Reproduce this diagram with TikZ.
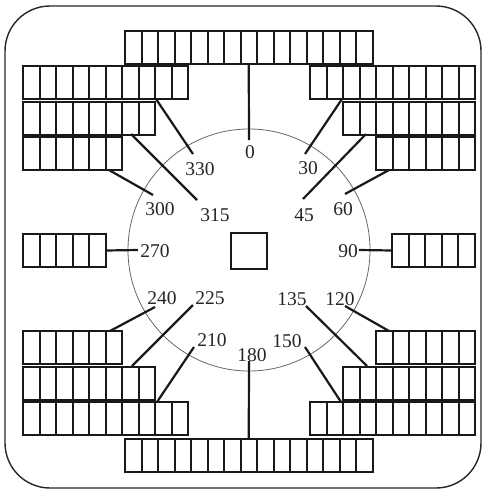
\documentclass[tikz,border=0pt]{standalone}
\usepackage{fontspec}
\setmainfont{Liberation Serif}
\begin{document}
\begin{tikzpicture}[x=1pt,y=-1pt,
  cellrow/.style={draw=black!90, line width=2pt},
  conn/.style={draw=black!90, line width=2.2pt},
  lab/.style={font=\fontsize{19.5}{19.5}\selectfont, inner sep=0pt, text=black!85}]
\useasboundingbox (0,0) rectangle (486,493);
\draw[line width=1.4pt, black!85, rounded corners=45pt] (5,6) rectangle (481,488);

\newcommand\cellrowbar[4]{%
  \node[cellrow, rectangle, anchor=north west, minimum width=#4*16.5pt, minimum height=33pt, inner sep=0pt, outer sep=0pt] (#1) at (#2,#3) {};
  \pgfmathtruncatemacro\cellm{#4-1}%
  \foreach \k in {1,...,\cellm} {\draw[cellrow] (#2+\k*16.5,#3) -- (#2+\k*16.5,#3+33);}
}

% bars
\cellrowbar{top}{125}{31}{15}
\cellrowbar{L1}{23}{66}{10}
\cellrowbar{L2}{23}{102}{8}
\cellrowbar{L3}{23}{137}{6}
\cellrowbar{L270}{23}{234}{5}
\cellrowbar{R1}{310}{66}{10}
\cellrowbar{R2}{343}{102}{8}
\cellrowbar{R3}{376}{137}{6}
\cellrowbar{R90}{392}{234}{5}
\cellrowbar{BL3}{23}{331}{6}
\cellrowbar{BL2}{23}{367}{8}
\cellrowbar{BL1}{23}{402}{10}
\cellrowbar{bot}{125}{439}{15}
\cellrowbar{BR3}{376}{331}{6}
\cellrowbar{BR2}{343}{367}{8}
\cellrowbar{BR1}{310}{402}{10}

% circle and centre square
\node[draw=black!60, line width=0.8pt, circle, minimum size=242pt, inner sep=0pt] (ring) at (249,250) {};
\node[draw=black!90, line width=2pt, minimum size=36pt, inner sep=0pt] (core) at (249,251) {};

% connector start points
\coordinate (s30) at (342,99);
\coordinate (s45) at (366,134);
\coordinate (s60) at (389,170);
\coordinate (s330) at (156,99);
\coordinate (s315) at (131,134);
\coordinate (s300) at (109,170);
\coordinate (s240) at (110,331);
\coordinate (s225) at (132,366);
\coordinate (s210) at (157,402);
\coordinate (s150) at (341,402);
\coordinate (s135) at (367,366);
\coordinate (s120) at (389,331);
% connector end points
\coordinate (e0) at (249,140);
\coordinate (e30) at (305,154);
\coordinate (e45) at (303,199);
\coordinate (e60) at (345,194);
\coordinate (e330) at (193,154);
\coordinate (e315) at (197,200);
\coordinate (e300) at (153,195);
\coordinate (e270) at (138,250);
\coordinate (e90) at (359,250);
\coordinate (e240) at (155,307);
\coordinate (e225) at (193,305);
\coordinate (e210) at (194,347);
\coordinate (e180) at (249,361);
\coordinate (e150) at (305,347);
\coordinate (e135) at (306,306);
\coordinate (e120) at (345,306);

\draw[conn] (top.south) -- (e0);
\draw[conn] (s30) -- (e30);
\draw[conn] (s45) -- (e45);
\draw[conn] (s60) -- (e60);
\draw[conn] (s330) -- (e330);
\draw[conn] (s315) -- (e315);
\draw[conn] (s300) -- (e300);
\draw[conn] (L270.east) -- (e270);
\draw[conn] (e90) -- (R90.west);
\draw[conn] (s240) -- (e240);
\draw[conn] (s225) -- (e225);
\draw[conn] (s210) -- (e210);
\draw[conn] (bot.north) -- (e180);
\draw[conn] (s150) -- (e150);
\draw[conn] (s135) -- (e135);
\draw[conn] (s120) -- (e120);

% labels
\node[lab] (l0) at (250,152) {0};
\node[lab] (l30) at (308,168) {30};
\node[lab] (l45) at (304,215) {45};
\node[lab] (l60) at (343,209) {60};
\node[lab] (l330) at (200,169) {330};
\node[lab] (l315) at (215,215) {315};
\node[lab] (l300) at (160,209) {300};
\node[lab] (l270) at (155,251) {270};
\node[lab] (l90) at (348,251) {90};
\node[lab] (l240) at (162,298) {240};
\node[lab] (l225) at (210,298) {225};
\node[lab] (l210) at (212,340) {210};
\node[lab] (l180) at (252,355) {180};
\node[lab] (l150) at (287,341) {150};
\node[lab] (l135) at (292,299) {135};
\node[lab] (l120) at (340,299) {120};
\end{tikzpicture}
\end{document}
